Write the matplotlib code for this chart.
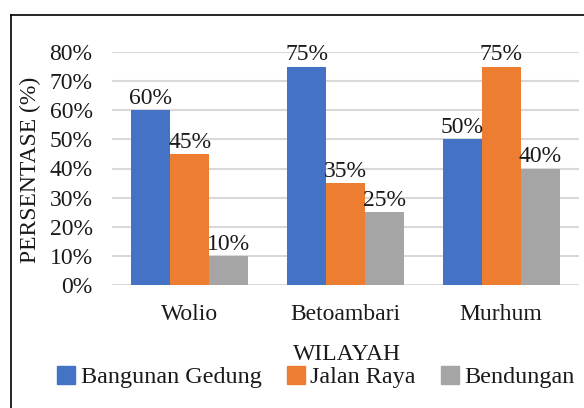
import matplotlib
matplotlib.use("Agg")
import matplotlib.pyplot as plt
import numpy as np
from matplotlib.lines import Line2D

categories = ["Wolio", "Betoambari", "Murhum"]
series_names = ["Bangunan Gedung", "Jalan Raya", "Bendungan"]
bangunan = [60, 75, 50]
jalan = [45, 35, 75]
bendungan = [10, 25, 40]
yticks = [0, 10, 20, 30, 40, 50, 60, 70, 80]
colors = ["#4472C4", "#ED7D31", "#A5A5A5"]

plt.rcParams['font.family'] = ['Liberation Serif', 'DejaVu Serif']
FS = 17

fig = plt.figure(figsize=(5.84, 4.08), dpi=100)
ax = fig.add_axes([112/584, 1-285/408, (579-112)/584, (285-52)/408])

x = np.arange(len(categories))
w = 0.25
data = [bangunan, jalan, bendungan]
for i, (vals, c, name) in enumerate(zip(data, colors, series_names)):
    xs = x + (i - 1) * w
    ax.bar(xs, vals, width=w, color=c, label=name, zorder=3)
    for xi, v in zip(xs, vals):
        ax.text(xi, v + 0.4, f"{v}%", ha="center", va="bottom", fontsize=FS, color="#1a1a1a", zorder=4)

ax.set_xlim(-0.5, 2.5)
ax.set_ylim(0, 80)
ax.set_yticks(yticks)
ax.set_yticklabels([f"{t}%" for t in yticks], fontsize=FS, color="#1a1a1a")
ax.set_xticks(x)
ax.set_xticklabels(categories, fontsize=FS, color="#1a1a1a")
ax.tick_params(axis="both", length=0)
ax.tick_params(axis="x", pad=14)
ax.tick_params(axis="y", pad=14)
ax.grid(axis="y", color="#d9d9d9", linewidth=1.5, zorder=0)
for s in ax.spines.values():
    s.set_visible(False)

fig.text(30/584, 1-170/408, "PERSENTASE (%)", rotation=90, ha="center", va="center", fontsize=FS, color="#1a1a1a")
fig.text(347/584, 1-355/408, "WILAYAH", ha="center", va="center", fontsize=FS, color="#1a1a1a")

handles = [plt.Rectangle((0, 0), 1, 1, color=c) for c in colors]
fig.legend(handles, series_names, loc="center", bbox_to_anchor=(316/584, 1-377/408), ncol=3,
           frameon=False, fontsize=17.4, handlelength=0.75, handleheight=0.75, handletextpad=0.22,
           columnspacing=1.05, labelcolor="#1a1a1a", borderpad=0)

fig.add_artist(Line2D([11/584, 1.0], [1-15/408, 1-15/408], color="black", linewidth=1.2, transform=fig.transFigure))
fig.add_artist(Line2D([11/584, 11/584], [0, 1-15/408], color="black", linewidth=1.2, transform=fig.transFigure))

fig.savefig("out.png", dpi=100)
